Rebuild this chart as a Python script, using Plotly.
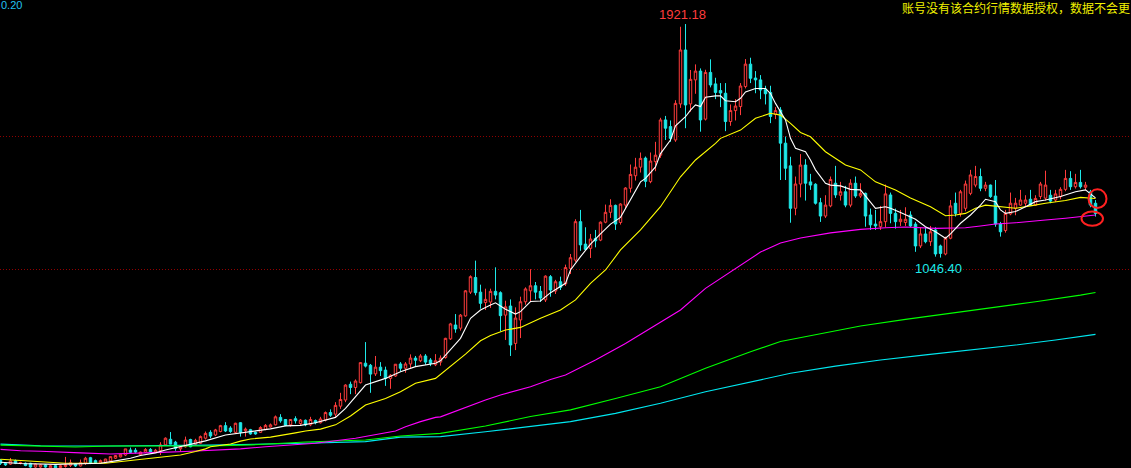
import plotly.graph_objects as go

# ---------------- data ----------------
opens = [288,276,273,286,276,276,276,262,262,270,259,267,260,264,268,273,266,277,297,286,
         277,280,285,295,300,307,326,325,308,318,328,318,323,345,366,355,330,338,365,347,
         351,370,392,382,395,417,408,392,428,398,402,392,392,403,412,420,448,440,420,443,
         425,437,420,436,428,438,466,460,490,513,572,560,578,651,643,611,636,625,594,603,
         648,632,648,670,660,678,663,645,655,672,742,794,782,828,917,972,917,878,880,920,
         915,831,865,725,813,881,922,941,920,888,975,921,956,948,1006,1037,1181,1097,1081,1118,
         1112,1179,1216,1242,1178,1243,1306,1353,1385,1419,1331,1406,1430,1562,1537,1487,1622,1824,1622,1712,
         1745,1565,1740,1697,1672,1662,1556,1597,1612,1687,1771,1719,1712,1677,1665,1583,1599,1475,1390,1231,
         1322,1393,1330,1321,1252,1202,1240,1325,1280,1293,1243,1325,1277,1287,1206,1172,1162,1181,1281,1212,
         1181,1178,1206,1172,1090,1135,1106,1150,1090,1060,1119,1250,1212,1231,1287,1318,1350,1306,1318,1277,
         1172,1148,1210,1231,1243,1250,1265,1243,1275,1269,1280,1262,1275,1302,1343,1312,1328,1310,1293,1250]
highs = [292,280,296,290,282,279,278,276,273,273,270,270,270,300,290,276,290,300,300,290,
         290,293,302,307,312,330,335,333,320,333,333,330,355,373,393,360,340,376,368,368,
         380,395,400,405,420,430,415,428,430,410,405,395,415,423,425,455,460,442,442,452,
         442,440,450,440,450,470,478,505,540,572,582,590,655,730,648,678,655,638,610,648,
         655,655,684,678,685,685,670,685,680,746,802,835,835,925,980,1035,945,930,930,1010,
         920,885,890,860,900,935,1003,955,940,980,981,963,975,1020,1060,1190,1225,1160,1135,1150,
         1182,1245,1265,1245,1250,1310,1395,1420,1440,1425,1440,1480,1570,1577,1560,1636,1911,1921.18,1749,1770,
         1755,1750,1789,1720,1700,1700,1620,1640,1700,1790,1795,1745,1730,1690,1690,1610,1610,1500,1424,1350,
         1434,1415,1360,1325,1270,1280,1350,1390,1330,1315,1340,1350,1325,1290,1230,1225,1240,1320,1290,1230,
         1225,1235,1220,1180,1160,1160,1165,1160,1095,1125,1262,1290,1300,1335,1375,1390,1380,1330,1320,1337,
         1180,1225,1290,1270,1300,1280,1300,1280,1330,1372,1300,1300,1310,1375,1370,1360,1375,1330,1300,1262]
lows = [270,266,270,273,272,265,259,259,259,259,258,258,258,260,262,262,264,270,273,275,
        275,277,282,292,298,303,314,313,305,315,316,316,307,343,347,323,320,335,336,343,
        348,365,370,378,392,393,390,388,376,376,383,383,390,400,410,418,428,415,413,425,
        420,415,415,422,425,433,450,447,480,505,535,535,575,635,540,603,603,566,555,600,
        620,615,633,640,655,645,640,640,642,668,738,765,773,825,910,905,855,850,858,890,
        770,738,678,700,745,870,880,890,880,880,900,910,925,940,985,1030,1072,1075,1045,1085,
        1108,1175,1195,1150,1170,1230,1290,1335,1365,1310,1325,1370,1420,1487,1480,1480,1607,1531,1593,1660,
        1518,1560,1684,1640,1610,1520,1540,1560,1580,1680,1700,1662,1640,1620,1550,1565,1337,1337,1177,1205,
        1272,1260,1300,1245,1180,1195,1235,1270,1260,1235,1235,1270,1270,1162,1150,1150,1150,1160,1175,1155,
        1165,1165,1160,1068,1082,1100,1090,1050,1046.4,1055,1115,1200,1200,1220,1280,1310,1295,1295,1270,1162,
        1125,1140,1205,1205,1240,1240,1240,1240,1265,1260,1250,1255,1265,1295,1300,1305,1305,1300,1235,1200]
closes = [276,270,285,276,278,268,262,273,270,262,267,259,267,270,278,266,278,295,277,277,
          286,292,301,305,310,330,317,318,318,328,318,325,345,370,348,332,338,363,338,362,
          376,388,378,401,417,397,395,426,392,404,386,386,410,418,420,450,435,418,440,435,
          438,420,440,428,442,466,456,493,515,569,560,584,653,640,610,636,623,594,606,647,
          632,648,670,662,678,655,650,660,670,744,798,779,831,922,975,915,875,890,920,906,
          829,862,719,820,881,929,941,917,895,977,925,956,935,1009,1046,1181,1094,1077,1116,1109,
          1179,1216,1242,1172,1247,1307,1358,1385,1418,1332,1408,1430,1562,1531,1493,1624,1824,1618,1714,1745,
          1562,1740,1693,1665,1663,1556,1597,1614,1689,1771,1718,1712,1674,1660,1575,1597,1475,1381,1231,1322,
          1393,1325,1318,1250,1202,1243,1339,1281,1293,1243,1325,1277,1287,1202,1169,1165,1181,1285,1212,1181,
          1190,1190,1165,1090,1135,1106,1143,1060,1062,1119,1240,1212,1293,1322,1356,1350,1306,1318,1275,1172,
          1143,1212,1250,1250,1262,1262,1243,1268,1322,1318,1258,1285,1302,1343,1312,1328,1312,1318,1243,1212]
idx = list(range(len(closes)))

# moving-average lines, read at selected candle positions
ma_white_k = [0,4,11,17,20,23,26,28,31,33,35,38,41,45,48,50,54,57,60,63,67,69,71,73,77,80,83,87,88,90,
              92,94,96,98,99,101,103,104,106,108,110,113,114,116,118,120,122,124,126,128,129,131,132,134,135,
              137,138,139,140,141,143,144,145,147,148,149,151,153,154,155,157,158,159,161,162,163,165,166,168,
              170,172,174,175,177,178,180,183,185,187,189,190,192,194,196,197,199,200,201,203,205,207,209,212,
              215,217,219]
ma_white_v = [280,275,272,273,276,285,295,305,315,326,335,348,360,382,390,394,405,416,418,428,448,482,526,569,594,619,638,651,660,700,
              744,819,850,869,877,853,835,844,882,884,915,950,1000,1050,1097,1135,1172,1197,1262,1330,1343,1386,1436,1487,1540,
              1574,1599,1618,1612,1647,1652,1652,1634,1630,1643,1667,1680,1680,1661,1624,1562,1493,1456,1443,1412,1375,1325,1318,1315,
              1302,1300,1256,1231,1237,1231,1215,1190,1162,1143,1119,1135,1175,1206,1243,1265,1256,1225,1212,1219,1237,1256,1262,1275,
              1293,1300,1270]
ma_yellow_k = [0,3,7,10,13,21,23,25,29,33,36,39,41,42,46,48,50,54,57,59,61,64,67,70,73,77,80,83,87,90,
               93,96,98,101,104,108,112,115,118,121,124,128,132,136,139,143,144,148,151,154,156,158,160,162,165,
               169,172,175,179,182,186,189,191,193,195,197,200,203,206,209,213,216,219]
ma_yellow_v = [291,287,283,279,276,276,280,285,292,299,307,320,330,338,348,359,367,374,382,390,397,404,420,453,494,519,544,576,594,638,
               685,735,755,775,785,819,850,888,950,1000,1075,1150,1237,1349,1412,1474,1493,1524,1568,1587,1580,1549,1515,1499,1443,
               1393,1375,1330,1300,1270,1237,1203,1206,1212,1231,1243,1237,1231,1240,1250,1260,1272,1268]
ma_magenta_k = [0,4,8,12,16,22,27,32,37,43,48,53,63,71,79,81,84,87,88,97,100,106,110,113,119,125,130,136,141,144,
                148,152,156,160,166,172,177,181,187,193,196,199,203,206,209,213,216,219]
ma_magenta_v = [328,323,321,317,315,311,313,317,320,326,330,338,351,370,397,413,432,448,450,513,532,563,590,607,663,725,782,850,931,969,
                1019,1067,1101,1120,1139,1152,1158,1161,1156,1158,1165,1172,1177,1181,1187,1194,1200,1206]
ma_green_k = [0,8,15,22,42,50,61,73,80,88,97,106,114,123,132,141,150,156,163,172,181,189,198,207,216,219]
ma_green_v = [344,339,337,341,341,345,356,363,378,388,416,451,476,519,563,632,694,732,757,790,815,835,856,881,906,916]
ma_cyan_k = [0,8,22,42,61,73,80,88,97,106,114,123,132,141,150,158,167,176,185,194,203,211,219]
ma_cyan_v = [348,342,341,344,351,357,374,376,394,413,432,463,501,544,582,613,640,663,682,700,719,738,759]

high_label = "1921.18"
low_label = "1046.40"
notice_text = "账号没有该合约行情数据授权，数据不会更"
top_price_text = "0.20"
grid_levels = [1000, 1500]

# ---------------- style ----------------
RED = "#ff3c3c"
CYAN = "#1ee8e8"
W, H = 1131, 468

fig = go.Figure()
fig.add_trace(go.Candlestick(
    x=idx, open=opens, high=highs, low=lows, close=closes,
    increasing=dict(line=dict(color=RED, width=1), fillcolor="black"),
    decreasing=dict(line=dict(color=CYAN, width=1), fillcolor=CYAN),
    whiskerwidth=0, hoverinfo="skip", showlegend=False,
))

for k, v, col in [(ma_cyan_k, ma_cyan_v, "#00e8f0"),
                  (ma_green_k, ma_green_v, "#00ff00"),
                  (ma_magenta_k, ma_magenta_v, "#ff00ff"),
                  (ma_yellow_k, ma_yellow_v, "#ffff00"),
                  (ma_white_k, ma_white_v, "#ffffff")]:
    fig.add_trace(go.Scatter(x=k, y=v, mode="lines", line=dict(color=col, width=1.1),
                             hoverinfo="skip", showlegend=False))

ihi = highs.index(max(highs))
tail_lows = lows[ihi:]
ilo = ihi + tail_lows.index(min(tail_lows))
last = len(closes) - 1

annotations = [
    dict(x=ihi, y=highs[ihi], xref="x", yref="y", text=high_label, showarrow=False,
         yanchor="bottom", xanchor="center", yshift=0, xshift=-3,
         font=dict(color=RED, size=13, family="Liberation Sans")),
    dict(x=ilo, y=lows[ilo], xref="x", yref="y", text=low_label, showarrow=False,
         yanchor="top", xanchor="center", yshift=-1, xshift=-2,
         font=dict(color=CYAN, size=13, family="Liberation Sans")),
    dict(x=1.0, y=1.0, xref="paper", yref="paper", text=notice_text, showarrow=False,
         xanchor="right", yanchor="top", borderpad=0, yshift=2,
         font=dict(color="#f0f000", size=12, family="Noto Sans CJK SC")),
    dict(x=0.0, y=1.0, xref="paper", yref="paper", text=top_price_text, showarrow=False,
         xanchor="left", yanchor="top", borderpad=0, yshift=2,
         font=dict(color="#22c0f0", size=11, family="Liberation Sans")),
]

shapes = [
    dict(type="circle", xref="x", yref="y", x0=last - 1.4, x1=last + 2.2,
         y0=ma_yellow_v[-1] - 36, y1=ma_yellow_v[-1] + 34, line=dict(color="#ff2020", width=2)),
    dict(type="circle", xref="x", yref="y", x0=last - 2.8, x1=last + 1.5,
         y0=ma_magenta_v[-1] - 40, y1=ma_magenta_v[-1] + 13, line=dict(color="#ff2020", width=2)),
]

fig.update_layout(
    width=W, height=H, margin=dict(l=0, r=0, t=0, b=0),
    paper_bgcolor="black", plot_bgcolor="black",
    showlegend=False, annotations=annotations, shapes=shapes,
    xaxis=dict(range=[-0.1, W / 5 - 0.1], visible=False, rangeslider=dict(visible=False),
               showgrid=False, zeroline=False, fixedrange=True),
    yaxis=dict(range=[258.4, 2011.2], tickvals=grid_levels, showticklabels=False,
               showgrid=True, gridcolor="#900000", griddash="1px,2px", gridwidth=1,
               zeroline=False, showline=False, ticks="", fixedrange=True),
)

fig.write_html("out.html", config={"displayModeBar": False})
